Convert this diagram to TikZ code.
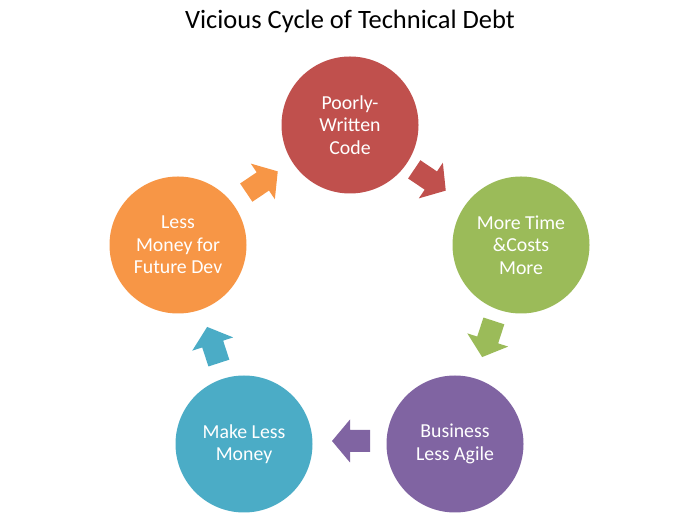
\documentclass[tikz,border=0pt]{standalone}
\usepackage{fontspec}
\setmainfont{Carlito}
\definecolor{cred}{HTML}{C0504D}
\definecolor{cgreen}{HTML}{9BBB59}
\definecolor{cpurple}{HTML}{8064A2}
\definecolor{cblue}{HTML}{4BACC6}
\definecolor{corange}{HTML}{F79646}
\tikzset{
  stage/.style={circle, fill=#1, minimum size=137pt, inner sep=0pt, text=white,
    align=center, font=\fontsize{19.8}{22.5}\selectfont},
  blockarr/.style={fill=#1}
}
\newcommand\cyclearrow[3]{%
  \fill[blockarr=#1, shift={(#2)}, rotate=#3]
    (-19,-11) -- (1,-11) -- (1,-21.5) -- (19,0) -- (1,21.5) -- (1,11) -- (-19,11) -- cycle;}
\begin{document}
\begin{tikzpicture}[x=1pt,y=1pt]
\useasboundingbox (0,0) rectangle (700,518);
\node[font=\fontsize{26.5}{30}\selectfont] (title) at (350,497) {Vicious Cycle of Technical Debt};
\node[stage=cred] (code) at (350,393) {Poorly-\\Written\\Code};
\node[stage=cgreen] (time) at (521,273) {More Time\\\&Costs\\More};
\node[stage=cpurple] (agile) at (455,74) {Business\\Less Agile};
\node[stage=cblue] (money) at (244,74) {Make Less\\Money};
\node[stage=corange] (future) at (178,273) {Less\\Money for\\Future Dev};
\cyclearrow{cred}{430,338}{-34}
\cyclearrow{cgreen}{488,179}{-108}
\cyclearrow{cpurple}{351,77}{180}
\cyclearrow{cblue}{213,173}{108}
\cyclearrow{corange}{262,336}{34}
\end{tikzpicture}
\end{document}
